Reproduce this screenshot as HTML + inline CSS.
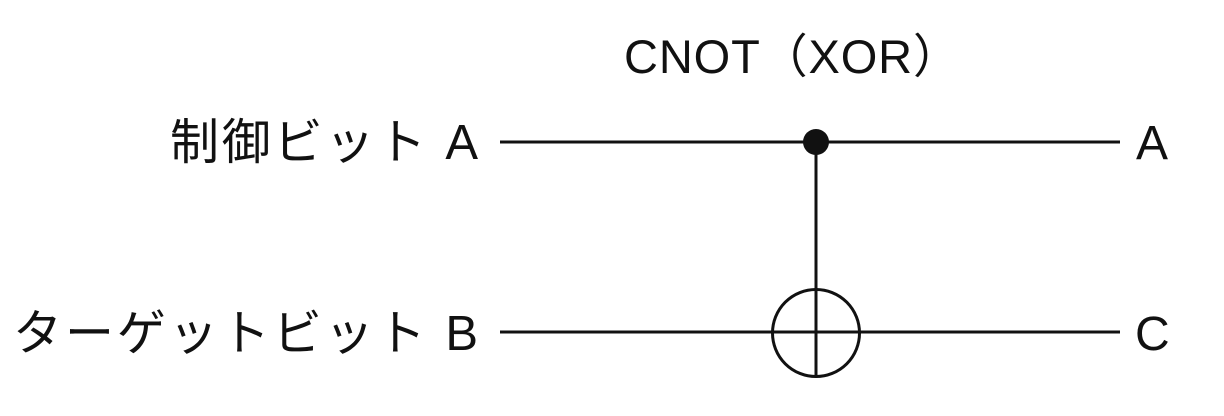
<!DOCTYPE html>
<html><head><meta charset="utf-8"><style>
html,body{margin:0;padding:0;background:#fff;}
svg{display:block}
text{font-family:"Liberation Sans","Noto Sans CJK JP",sans-serif;fill:#111;}
</style></head><body>
<svg width="1224" height="416" viewBox="0 0 1224 416" xmlns="http://www.w3.org/2000/svg">
<text x="792" y="73" font-size="47" text-anchor="middle" textLength="336" lengthAdjust="spacing">CNOT（XOR）</text>
<text x="478" y="159" font-size="49" text-anchor="end" textLength="308" lengthAdjust="spacing">制御ビット A</text>
<text x="478" y="350" font-size="49" text-anchor="end" textLength="465" lengthAdjust="spacing">ターゲットビット B</text>
<text x="1136" y="159" font-size="48">A</text>
<text x="1135" y="350" font-size="48">C</text>
<g stroke="#111" stroke-width="3" fill="none">
<line x1="500" y1="142" x2="1120" y2="142"/>
<line x1="500" y1="332" x2="1120" y2="332"/>
<line x1="816" y1="142" x2="816" y2="377"/>
<circle cx="816" cy="333" r="43.5"/>
</g>
<circle cx="816" cy="142" r="13" fill="#111"/>
</svg>
</body></html>
